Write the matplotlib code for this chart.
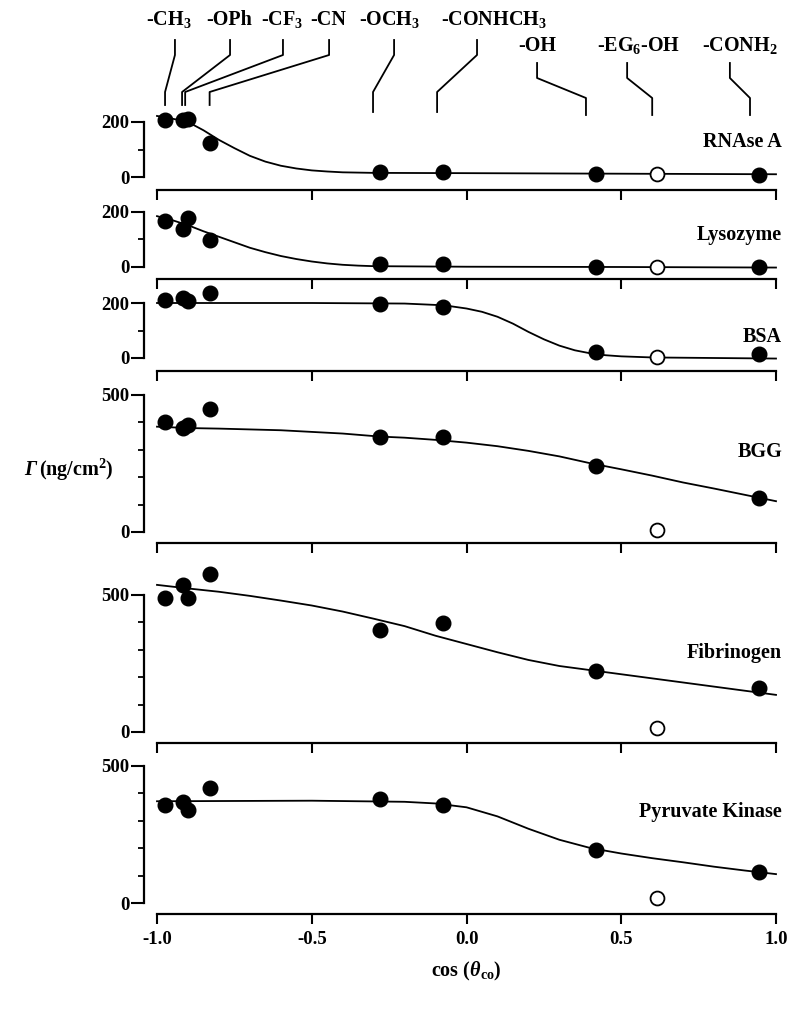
import numpy as np
import matplotlib
matplotlib.use("Agg")
from matplotlib import pyplot as plt

plt.rcParams['font.family'] = ['Liberation Serif', 'DejaVu Serif']
plt.rcParams['font.weight'] = 'bold'
plt.rcParams['axes.labelweight'] = 'bold'
plt.rcParams['mathtext.fontset'] = 'custom'
plt.rcParams['mathtext.rm'] = 'Liberation Serif:bold'
plt.rcParams['mathtext.it'] = 'Liberation Serif:italic:bold'
plt.rcParams['mathtext.bf'] = 'Liberation Serif:bold'

# surfaces (SAM terminal groups) and their cos(theta)
surfaces = ['-CH$_3$', '-OPh', '-CF$_3$', '-CN', '-OCH$_3$', '-CONHCH$_3$',
            '-OH', '-EG$_6$-OH', '-CONH$_2$']
cos_theta = [-0.974, -0.915, -0.90, -0.83, -0.28, -0.075, 0.417, 0.616, 0.944]
open_idx = 7  # EG6-OH drawn as open circle

proteins = ['RNAse A', 'Lysozyme', 'BSA', 'BGG', 'Fibrinogen', 'Pyruvate Kinase']

ads_rnase = [207, 207, 212, 122, 17, 17, 12, 10, 8]
ads_lyso = [167, 138, 178, 98, 11, 11, 0, 0, 0]
ads_bsa = [211, 218, 207, 236, 196, 185, 22, 4, 15]
ads_bgg = [399, 380, 388, 449, 344, 344, 239, 7, 123]
ads_fib = [489, 536, 489, 575, 371, 396, 221, 14, 161]
ads_pk = [355, 366, 340, 420, 377, 355, 192, 18, 112]

# fitted curves
fit_rnase_x = [-1.0, -0.95, -0.9, -0.85, -0.8, -0.75, -0.7, -0.65, -0.6, -0.55, -0.5, -0.45, -0.4, -0.3, 0.0, 0.5, 1.0]
fit_rnase_y = [222, 212, 200, 170, 135, 105, 77, 56, 41, 31, 24, 20, 17, 15, 14, 12, 10]
fit_lyso_x = [-1.0, -0.95, -0.9, -0.85, -0.8, -0.75, -0.7, -0.65, -0.6, -0.55, -0.5, -0.45, -0.4, -0.35, -0.3, 0.0, 0.5, 1.0]
fit_lyso_y = [185, 170, 152, 130, 110, 90, 70, 54, 40, 29, 20, 13, 8, 5, 3, 1, 0, -2]
fit_bsa_x = [-1.0, -0.5, -0.2, -0.1, -0.05, 0.0, 0.05, 0.1, 0.15, 0.2, 0.25, 0.3, 0.35, 0.4, 0.45, 0.5, 0.6, 0.8, 1.0]
fit_bsa_y = [200, 200, 198, 193, 188, 180, 168, 150, 125, 95, 68, 45, 28, 17, 10, 6, 2, 0, -2]
fit_bgg_x = [-1.0, -0.9, -0.8, -0.6, -0.4, -0.28, -0.2, -0.1, 0.0, 0.1, 0.2, 0.3, 0.4, 0.5, 0.6, 0.7, 0.8, 0.9, 1.0]
fit_bgg_y = [383, 378, 376, 370, 358, 347, 343, 335, 325, 312, 295, 275, 250, 228, 205, 180, 158, 135, 112]
fit_fib_x = [-1.0, -0.9, -0.8, -0.7, -0.6, -0.5, -0.4, -0.3, -0.2, -0.1, 0.0, 0.1, 0.2, 0.3, 0.4, 0.5, 0.6, 0.7, 0.8, 0.9, 1.0]
fit_fib_y = [535, 522, 510, 495, 478, 460, 438, 412, 385, 350, 320, 290, 262, 240, 225, 210, 195, 180, 165, 150, 135]
fit_pk_x = [-1.0, -0.5, -0.2, -0.1, 0.0, 0.1, 0.2, 0.3, 0.4, 0.5, 0.6, 0.7, 0.8, 0.9, 1.0]
fit_pk_y = [370, 372, 368, 362, 348, 315, 270, 230, 200, 180, 163, 148, 132, 118, 105]

ads = [ads_rnase, ads_lyso, ads_bsa, ads_bgg, ads_fib, ads_pk]
fits = [(fit_rnase_x, fit_rnase_y), (fit_lyso_x, fit_lyso_y), (fit_bsa_x, fit_bsa_y),
        (fit_bgg_x, fit_bgg_y), (fit_fib_x, fit_fib_y), (fit_pk_x, fit_pk_y)]
ymax_tick = [200, 200, 200, 500, 500, 500]
label_y = [126, 116, 76, 290, 286, 330]

# leader lines for the surface labels (data x) : label, elbow, bottom
label_x = [-0.961, -0.767, -0.596, -0.447, -0.247, 0.089, 0.228, 0.557, 0.884]
elbow_x = [-0.942, -0.764, -0.593, -0.444, -0.234, 0.034, 0.228, 0.519, 0.851]
leader_x = [-0.974, -0.919, -0.909, -0.83, -0.302, -0.095, 0.386, 0.60, 0.916]
lower_row = [False, False, False, False, False, False, True, True, True]

# layout in pixels (top, zero line, bottom spine) for each panel
W, H = 800, 1009
X0, X1 = 157, 776
K = 0.275
layout = [(105, 177, 190), (192, 267, 279), (281, 358, 371),
          (373, 532, 543), (545, 732, 743), (745, 903, 914)]

fig = plt.figure(figsize=(W / 100, H / 100), dpi=100)

axes = []
for i, (top, zero, bot) in enumerate(layout):
    ax = fig.add_axes([X0 / W, 1 - bot / H, (X1 - X0) / W, (bot - top) / H])
    ax.set_xlim(-1, 1)
    ax.set_ylim(-(bot - zero) / K, (zero - top) / K)
    ax.patch.set_visible(False)
    for s in ['top', 'right']:
        ax.spines[s].set_visible(False)
    ax.spines['left'].set_position(('outward', 9.4))
    ax.spines['left'].set_bounds(0, ymax_tick[i])
    ax.spines['left'].set_linewidth(1.6)
    ax.spines['bottom'].set_linewidth(1.6)

    ax.set_xticks([-1.0, -0.5, 0.0, 0.5, 1.0])
    ax.tick_params(axis='x', direction='out', length=7, width=1.5,
                   labelbottom=(i == len(layout) - 1), labelsize=13.5, pad=5)
    ax.set_yticks([0, ymax_tick[i]])
    ax.set_yticks(list(range(100, ymax_tick[i], 100)), minor=True)
    ax.tick_params(axis='y', which='major', direction='out', length=9.5, width=1.5,
                   labelsize=13.5, pad=1)
    ax.tick_params(axis='y', which='minor', direction='out', length=4, width=1.3)
    if i == len(layout) - 1:
        ax.set_xticklabels(['-1.0', '-0.5', '0.0', '0.5', '1.0'])

    fx, fy = fits[i]
    ax.plot(fx, fy, color='black', lw=1.3, clip_on=False, zorder=2)
    vals = ads[i]
    for j, (x, y) in enumerate(zip(cos_theta, vals)):
        if j == open_idx:
            ax.plot(x, y, 'o', ms=10, mfc='white', mec='black', mew=1.3,
                    clip_on=False, zorder=3)
        else:
            ax.plot(x, y, 'o', ms=10.5, color='black', clip_on=False, zorder=3)
    ax.text(1.02, label_y[i], proteins[i], ha='right', va='center', fontsize=14.5,
            fontweight='bold')
    axes.append(ax)

axes[-1].set_xlabel(r'cos ($\theta_{\mathrm{co}}$)', fontsize=14.5,
                    fontweight='bold', labelpad=9)

# top overlay with the surface labels and leader lines
top = fig.add_axes([X0 / W, 1 - 120 / H, (X1 - X0) / W, 120 / H])
top.set_xlim(-1, 1)
top.set_ylim(120, 0)
top.axis('off')
for j in range(len(surfaces)):
    if lower_row[j]:
        ys = [63, 78, 98, 115]
        ty = 46
    else:
        ys = [40, 55, 92, 105 if j < 4 else 112]
        ty = 20
    xs = [elbow_x[j], elbow_x[j], leader_x[j], leader_x[j]]
    top.plot(xs, ys, color='black', lw=1.3, clip_on=False)
    top.text(label_x[j], ty, surfaces[j], ha='center', va='center', fontsize=14.5,
             fontweight='bold')

fig.text(36 / W, 1 - 470 / H, 'Γ', ha='right', va='center', fontsize=14.5,
         style='italic', fontweight='bold')
fig.text(39 / W, 1 - 470 / H, '(ng/cm$^2$)', ha='left', va='center',
         fontsize=14.5, fontweight='bold')

fig.savefig('out.png', dpi=100)
